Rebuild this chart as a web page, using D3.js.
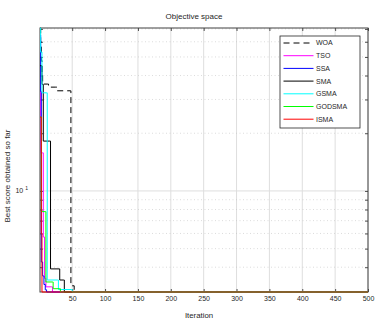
<!DOCTYPE html>
<html>
<head>
<meta charset="utf-8">
<script src="https://cdn.jsdelivr.net/npm/d3@7"></script>
<style>
  body { margin: 0; background: #fff; }
  text { font-family: "Liberation Sans", Arial, sans-serif; fill: #262626; }
</style>
</head>
<body>
<div id="chart"></div>
<script>
// data (iteration, best score so far) - step points
const iterTicks = [50, 100, 150, 200, 250, 300, 350, 400, 450, 500]
const yMajor = [10]
const yMinor = [4, 5, 6, 7, 8, 9, 20, 30, 40, 50, 60, 70]
const yExtent = [2.97, 70.8]

const seriesNames = ['WOA', 'TSO', 'SSA', 'SMA', 'GSMA', 'GODSMA', 'ISMA']
const seriesColors = ['#000000', '#ff00ff', '#0000ff', '#000000', '#00ffff', '#00ff00', '#ff0000']

const woa = [[1, 70.8], [2, 60], [3, 48], [4, 40], [5, 36.1], [12, 36.1], [14, 34.8], [25, 34.8], [27, 33.3], [47, 33.3], [48, 3.3], [50, 3.2], [53, 3.05], [56, 2.97], [500, 2.97]]
const tso = [[1, 33], [2, 15.8], [5, 15.8], [6, 5.75], [8, 3.5], [10, 3.16], [19, 3.16], [20, 2.97], [500, 2.97]]
const ssa = [[1, 65], [2, 33], [3, 4.26], [5, 3.6], [7, 3.25], [9, 3.05], [11, 2.97], [500, 2.97]]
const sma = [[1, 45], [4, 36], [6, 18.2], [16, 18.2], [17, 3.92], [30, 3.92], [31, 3.43], [37, 3.43], [38, 2.97], [500, 2.97]]
const gsma = [[1, 70.8], [2, 53], [4, 32.5], [11, 32.5], [12, 3.43], [28, 3.43], [29, 3.06], [49, 3.06], [50, 2.97], [500, 2.97]]
const godsma = [[1, 24.3], [2, 24.3], [3, 7.8], [9, 7.8], [10, 3.35], [20, 3.35], [21, 3.09], [31, 3.09], [32, 2.97], [500, 2.97]]
const isma = [[1, 24.3], [2, 24.3], [3, 6], [4, 2.97], [500, 2.97]]

const allSeries = [woa, tso, ssa, sma, gsma, godsma, isma]

// set the dimensions and margins of the graph
const margin = { top: 28, right: 19, bottom: 35, left: 40 },
    width = 387 - margin.left - margin.right,
    height = 327 - margin.top - margin.bottom

const svg = d3.select('#chart')
    .append('svg')
    .attr('width', 387)
    .attr('height', 327)

const g = svg.append('g')
    .attr('transform', 'translate(' + margin.left + ',' + margin.top + ')')

const x = d3.scaleLinear().domain([1, 500]).range([0, width])
const y = d3.scaleLog().domain(yExtent).range([height, 0])

// grid
g.selectAll('.vgrid').data(iterTicks).enter().append('line')
    .attr('x1', d => x(d)).attr('x2', d => x(d))
    .attr('y1', 0).attr('y2', height)
    .attr('stroke', '#dedede').attr('stroke-width', 1)
g.selectAll('.hminor').data(yMinor).enter().append('line')
    .attr('x1', 0).attr('x2', width)
    .attr('y1', d => y(d)).attr('y2', d => y(d))
    .attr('stroke', '#c4c4c4').attr('stroke-width', 0.6)
    .attr('stroke-dasharray', '1,2.5')
g.selectAll('.hmajor').data(yMajor).enter().append('line')
    .attr('x1', 0).attr('x2', width)
    .attr('y1', d => y(d)).attr('y2', d => y(d))
    .attr('stroke', '#dedede').attr('stroke-width', 1)

// axes (ticks point inward like matlab)
const xAxis = g.append('g')
    .attr('transform', 'translate(0,' + height + ')')
    .call(d3.axisBottom(x).tickValues(iterTicks).tickSizeInner(-3).tickSizeOuter(0).tickPadding(4))
g.append('g')
    .call(d3.axisTop(x).tickValues(iterTicks).tickSizeInner(-3).tickSizeOuter(0).tickFormat(''))
const yTicks = yMajor.concat(yMinor)
g.append('g')
    .call(d3.axisLeft(y).tickValues(yTicks).tickSizeInner(-3).tickSizeOuter(0).tickFormat(''))
g.append('g')
    .attr('transform', 'translate(' + width + ',0)')
    .call(d3.axisRight(y).tickValues(yTicks).tickSizeInner(-3).tickSizeOuter(0).tickFormat(''))
g.selectAll('.domain').remove()
g.selectAll('.tick line').attr('stroke', '#262626').attr('stroke-width', 0.8)
xAxis.selectAll('text').attr('font-size', 7).attr('font-family', '"Liberation Sans", Arial, sans-serif').attr('fill', '#262626')

// 10^1 label
yMajor.forEach(v => {
    const t = g.append('text')
        .attr('x', -12).attr('y', y(v)).attr('dy', '0.35em')
        .attr('text-anchor', 'end').attr('font-size', 7)
    t.append('tspan').text('10')
    t.append('tspan').attr('dx', 2).attr('dy', -3).attr('font-size', 5).text(Math.round(Math.log10(v)))
})

// box
g.append('rect')
    .attr('x', 0).attr('y', 0).attr('width', width).attr('height', height)
    .attr('fill', 'none').attr('stroke', '#404040').attr('stroke-width', 1)

// the lines
const line = d3.line()
    .x(d => x(d[0]))
    .y(d => y(d[1]))
    .curve(d3.curveStepAfter)

allSeries.forEach((s, i) => {
    g.append('path')
        .datum(s)
        .attr('fill', 'none')
        .attr('stroke', seriesColors[i])
        .attr('stroke-width', 1)
        .attr('stroke-dasharray', i === 0 ? '6,4' : null)
        .attr('d', line)
})

// title and labels
svg.append('text').attr('x', 194).attr('y', 18.5)
    .attr('text-anchor', 'middle').attr('font-size', 8).text('Objective space')
svg.append('text').attr('x', 199).attr('y', 318)
    .attr('text-anchor', 'middle').attr('font-size', 7.8).text('Iteration')
svg.append('text')
    .attr('transform', 'translate(10,176) rotate(-90)')
    .attr('text-anchor', 'middle').attr('font-size', 8).text('Best score obtained so far')

// legend
const leg = svg.append('g').attr('transform', 'translate(280,36)')
leg.append('rect').attr('width', 80).attr('height', 92)
    .attr('fill', '#fff').attr('stroke', '#262626').attr('stroke-width', 0.8)
seriesNames.forEach((name, i) => {
    const ly = 7 + i * 12.7
    leg.append('line')
        .attr('x1', 3.5).attr('x2', 33.5).attr('y1', ly).attr('y2', ly)
        .attr('stroke', seriesColors[i]).attr('stroke-width', 1)
        .attr('stroke-dasharray', i === 0 ? '6,4' : null)
    leg.append('text').attr('x', 36).attr('y', ly).attr('dy', '0.35em')
        .attr('font-size', 7).text(name)
})
</script>
</body>
</html>
